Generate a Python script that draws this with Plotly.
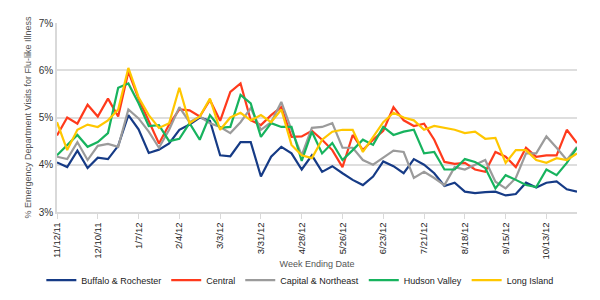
import pandas as pd
import plotly.graph_objects as go

dates = pd.date_range("2011-11-12", periods=52, freq="7D")
categories = [f"{d.month}/{d.day}/{d.strftime('%y')}" for d in dates]
tick_labels = categories[::4]

buffalo = [4.05,3.95,4.3,3.93,4.15,4.12,4.4,5.05,4.75,4.25,
           4.32,4.45,4.74,4.85,5.0,4.93,4.2,4.18,4.48,4.48,
           3.75,4.17,4.38,4.24,3.9,4.2,3.85,3.97,3.82,3.68,
           3.57,3.75,4.07,3.97,3.82,4.12,4.0,3.82,3.55,3.62,
           3.43,3.4,3.42,3.43,3.35,3.38,3.62,3.52,3.62,3.65,
           3.48,3.43]
central = [4.62,5.0,4.87,5.27,5.02,5.4,5.02,5.97,5.4,4.94,
           4.45,4.85,5.17,5.15,5.02,5.37,4.93,5.54,5.72,4.94,
           4.84,5.05,5.22,4.59,4.6,4.72,4.53,4.31,3.95,4.63,
           4.31,4.53,4.72,5.22,4.94,4.82,4.87,4.53,4.06,4.02,
           4.04,3.9,3.85,4.27,4.17,3.95,4.36,4.17,4.2,4.2,
           4.74,4.46]
capital = [4.17,4.12,4.48,4.1,4.4,4.44,4.38,5.17,4.98,4.7,
           4.36,4.74,5.22,4.9,5.02,4.88,4.8,4.67,4.9,5.2,
           4.74,4.9,5.33,4.74,4.2,4.78,4.8,4.88,4.36,4.36,
           4.1,4.0,4.15,4.3,4.27,3.72,3.85,3.72,3.57,3.95,
           3.9,4.0,4.1,3.64,3.5,3.72,4.24,4.24,4.6,4.36,
           4.1,4.38]
hudson = [4.2,4.42,4.63,4.38,4.48,4.67,5.63,5.72,5.3,4.82,
          4.84,4.5,4.55,4.88,4.53,5.05,4.78,4.8,5.48,5.3,
          4.59,4.88,4.8,4.8,4.08,4.7,4.24,4.46,4.1,4.31,
          4.53,4.42,4.8,4.63,4.7,4.74,4.24,4.27,3.9,3.9,
          4.12,4.06,3.93,3.5,3.78,3.68,3.57,3.53,3.9,3.78,
          4.04,4.36]
long_island = [4.9,4.31,4.74,4.85,4.8,4.94,5.17,6.05,5.43,5.05,
               4.78,4.88,5.63,4.88,5.02,5.4,4.74,5.0,5.1,4.94,
               5.05,4.9,5.17,4.42,4.2,4.14,4.53,4.7,4.74,4.74,
               4.27,4.59,4.9,5.1,5.0,4.94,4.74,4.82,4.78,4.74,
               4.67,4.7,4.55,4.57,4.04,4.31,4.31,4.1,4.04,4.14,
               4.1,4.24]

series = [
    ("Buffalo & Rochester", buffalo, "#163B86"),
    ("Central", central, "#FF3A1C"),
    ("Capital & Northeast", capital, "#9B9B9B"),
    ("Hudson Valley", hudson, "#17B35E"),
    ("Long Island", long_island, "#FFC700"),
]

fig = go.Figure()
for name, vals, color in series:
    fig.add_trace(go.Scatter(x=categories, y=vals, mode="lines", name=name,
                             line=dict(color=color, width=2.2)))

font = "Liberation Sans, Arial, sans-serif"
fig.update_layout(
    width=600, height=300,
    margin=dict(l=57, r=23, t=23, b=88, autoexpand=False),
    paper_bgcolor="white", plot_bgcolor="white",
    font=dict(family=font, size=10, color="#333333"),
    showlegend=True,
    legend=dict(orientation="h", x=0.467, xanchor="center", y=-0.36, yanchor="middle",
                font=dict(size=9, color="#222222"), itemwidth=30, tracegroupgap=0),
)
fig.update_xaxes(
    type="category", range=[0, len(categories) - 1], automargin=False,
    tickmode="array", tickvals=tick_labels, ticktext=tick_labels,
    tickangle=-90, ticks="outside", ticklen=5, tickcolor="#d9d9d9",
    showline=True, linecolor="#d9d9d9", linewidth=1.5, showgrid=False,
    tickfont=dict(size=9.5, color="#222222"),
    title=dict(text="Week Ending Date", font=dict(size=9, color="#555555"), standoff=2),
)
fig.update_yaxes(
    range=[3, 7], dtick=1, ticksuffix="%", automargin=False,
    showgrid=True, gridcolor="#dedede", gridwidth=1.5,
    showline=True, linecolor="#d9d9d9", linewidth=1.5,
    zeroline=False, tickfont=dict(size=10, color="#333333"),
    title=dict(text="% Emergency Department Visits for Flu-like Illness",
               font=dict(size=9, color="#555555"), standoff=6),
)
fig.write_html("out.html")
